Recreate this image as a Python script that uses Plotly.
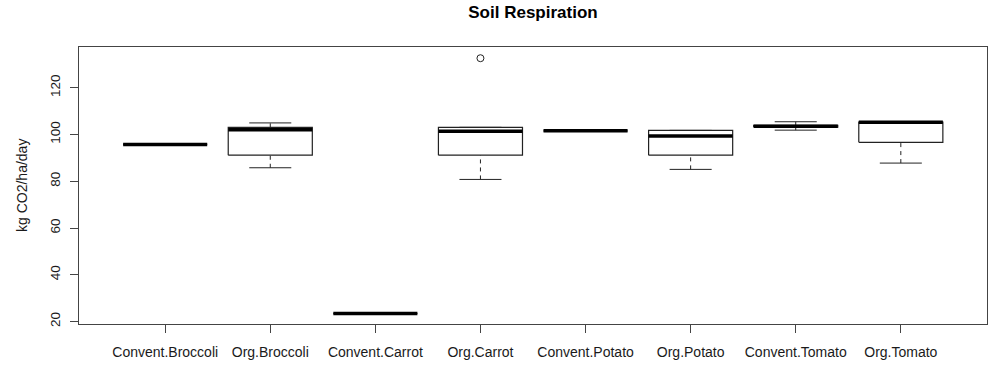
import plotly.graph_objects as go

categories = ["Convent.Broccoli", "Org.Broccoli", "Convent.Carrot", "Org.Carrot",
              "Convent.Potato", "Org.Potato", "Convent.Tomato", "Org.Tomato"]
lower_whisker = [95.8, 85.8, 23.4, 80.8, 101.6, 85.1, 101.9, 87.8]
q1 = [95.8, 91.2, 23.4, 91.2, 101.6, 91.2, 103.2, 96.7]
median = [95.8, 102.1, 23.4, 101.4, 101.6, 99.4, 103.6, 105.3]
q3 = [95.8, 103.1, 23.4, 103.1, 101.6, 101.8, 104.0, 105.3]
upper_whisker = [95.8, 105.0, 23.4, 103.1, 101.6, 101.8, 105.5, 105.3]
outlier_group = ["Org.Carrot"]
outlier_value = [132.7]
y_ticks = [20, 40, 60, 80, 100, 120]

pos = list(range(1, len(categories) + 1))
HALF_BOX = 0.4
HALF_CAP = 0.2

box_x, box_y = [], []
med_x, med_y = [], []
wh_x, wh_y = [], []
cap_x, cap_y = [], []
for p, lw, a, m, b, uw in zip(pos, lower_whisker, q1, median, q3, upper_whisker):
    box_x += [p - HALF_BOX, p + HALF_BOX, p + HALF_BOX, p - HALF_BOX, p - HALF_BOX, None]
    box_y += [a, a, b, b, a, None]
    med_x += [p - HALF_BOX, p + HALF_BOX, None]
    med_y += [m, m, None]
    wh_x += [p, p, None, p, p, None]
    wh_y += [lw, a, None, b, uw, None]
    cap_x += [p - HALF_CAP, p + HALF_CAP, None, p - HALF_CAP, p + HALF_CAP, None]
    cap_y += [lw, lw, None, uw, uw, None]

line_col = "#222222"
fig = go.Figure()
fig.add_trace(go.Scatter(x=wh_x, y=wh_y, mode="lines",
                         line=dict(color=line_col, width=1, dash="4px,4px"),
                         hoverinfo="skip", showlegend=False))
fig.add_trace(go.Scatter(x=cap_x, y=cap_y, mode="lines",
                         line=dict(color=line_col, width=1),
                         hoverinfo="skip", showlegend=False))
fig.add_trace(go.Scatter(x=box_x, y=box_y, mode="lines",
                         line=dict(color=line_col, width=1.2),
                         hoverinfo="skip", showlegend=False))
fig.add_trace(go.Scatter(x=med_x, y=med_y, mode="lines",
                         line=dict(color="#000000", width=3.5),
                         hoverinfo="skip", showlegend=False))
fig.add_trace(go.Scatter(x=[pos[categories.index(g)] for g in outlier_group], y=outlier_value,
                         mode="markers",
                         marker=dict(symbol="circle-open", size=7, color=line_col,
                                     line=dict(width=1, color=line_col)),
                         showlegend=False))

fig.update_layout(
    width=1000, height=365,
    margin=dict(l=79, r=13, t=47, b=41),
    paper_bgcolor="white", plot_bgcolor="white",
    font=dict(family="Liberation Sans, Arial, sans-serif", size=14, color="#1a1a1a"),
    title=dict(text="<b>Soil Respiration</b>", x=0.533, xanchor="center",
               y=0.966, yanchor="middle", font=dict(size=17, color="#000000")),
    showlegend=False,
)
fig.update_xaxes(range=[0.18, 8.82], tickvals=pos, ticktext=categories,
                 showgrid=False, zeroline=False, showline=True, mirror=True,
                 linecolor="#444444", linewidth=1, ticks="outside", ticklen=8,
                 tickcolor="#444444", ticklabelstandoff=7, automargin=False,
                 tickfont=dict(size=14))
fig.update_yaxes(range=[18.9, 137.5], tickvals=y_ticks,
                 showgrid=False, zeroline=False, showline=True, mirror=True,
                 linecolor="#444444", linewidth=1, ticks="outside", ticklen=8,
                 tickcolor="#444444", tickangle=-90, ticklabelstandoff=5,
                 automargin=False, tickfont=dict(size=13.5))
fig.add_annotation(text="kg CO2/ha/day", xref="paper", yref="paper",
                   x=0, y=0.5, xanchor="center", yanchor="middle",
                   xshift=-57.5, textangle=-90, showarrow=False,
                   font=dict(size=14, color="#1a1a1a"))

fig.write_html("out.html", config={"displayModeBar": False},
               post_script="document.body.style.margin='0';document.body.style.overflow='hidden';")
